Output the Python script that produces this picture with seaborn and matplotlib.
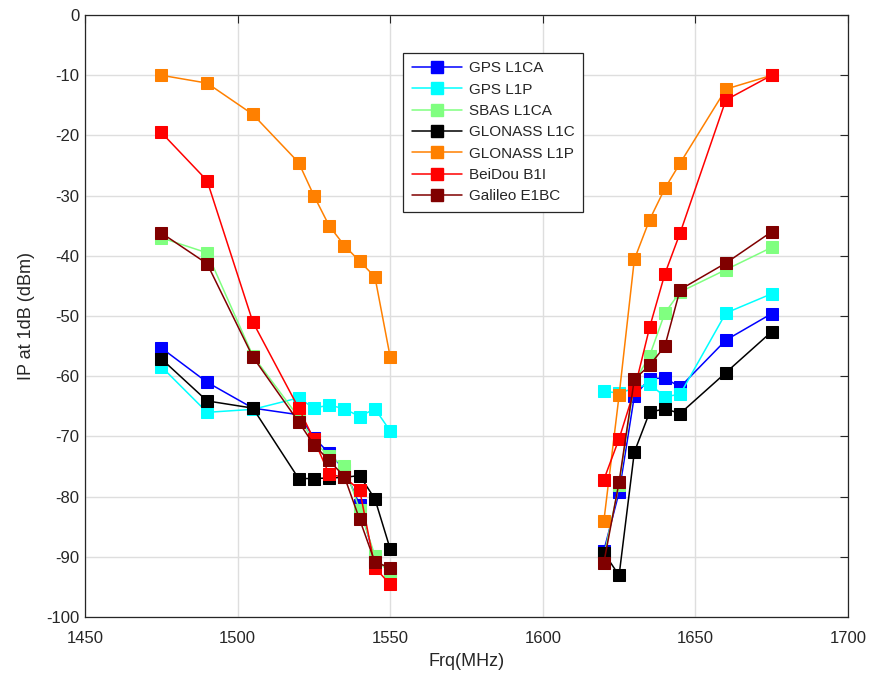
import numpy as np
import pandas as pd
import matplotlib
matplotlib.use("Agg")
import matplotlib.pyplot as plt
import seaborn as sns
from matplotlib.lines import Line2D

freq_low = [1475, 1490, 1505, 1520, 1525, 1530, 1535, 1540, 1545, 1550]
freq_high = [1620, 1625, 1630, 1635, 1640, 1645, 1660, 1675]

systems = ["GPS L1CA", "GPS L1P", "SBAS L1CA", "GLONASS L1C",
           "GLONASS L1P", "BeiDou B1I", "Galileo E1BC"]

gps_l1ca_low = [-55.3, -61.0, -65.3, -66.4, -70.2, -72.8, -75.5, -81.4, -90.5, -92.3]
gps_l1ca_high = [-89.0, -79.3, -63.3, -60.4, -60.3, -61.8, -54.0, -49.6]
gps_l1p_low = [-58.4, -66.0, -65.5, -63.6, -65.3, -64.8, -65.4, -66.7, -65.4, -69.1]
gps_l1p_high = [-62.5, -62.8, -62.0, -61.3, -63.4, -63.0, -49.5, -46.3]
sbas_low = [-37.0, -39.5, -56.6, -66.8, -70.8, -73.3, -74.9, -82.2, -89.8, -93.0]
sbas_high = [-90.0, -78.0, -61.0, -56.6, -49.5, -46.0, -42.3, -38.6]
glo_l1c_low = [-57.1, -64.1, -65.3, -77.0, -77.0, -76.9, -76.8, -76.5, -80.4, -88.7]
glo_l1c_high = [-89.3, -93.1, -72.6, -66.0, -65.4, -66.2, -59.4, -52.6]
glo_l1p_low = [-10.0, -11.3, -16.5, -24.5, -30.0, -35.0, -38.3, -40.9, -43.5, -56.8]
glo_l1p_high = [-84.1, -63.2, -40.6, -34.0, -28.8, -24.6, -12.3, -10.0]
beidou_low = [-19.5, -27.5, -51.0, -65.3, -70.5, -76.3, -76.8, -78.9, -91.8, -94.6]
beidou_high = [-77.2, -70.4, -62.3, -51.9, -43.0, -36.2, -14.1, -10.0]
galileo_low = [-36.2, -41.3, -56.8, -67.6, -71.4, -74.0, -76.7, -83.8, -90.9, -91.8]
galileo_high = [-91.0, -77.6, -60.5, -58.2, -55.0, -45.6, -41.2, -36.0]

low_vals = [gps_l1ca_low, gps_l1p_low, sbas_low, glo_l1c_low, glo_l1p_low, beidou_low, galileo_low]
high_vals = [gps_l1ca_high, gps_l1p_high, sbas_high, glo_l1c_high, glo_l1p_high, beidou_high, galileo_high]

colors = ["#0000ff", "#00ffff", "#80ff80", "#000000", "#ff8000", "#ff0000", "#800000"]

rows = []
for s, lo, hi in zip(systems, low_vals, high_vals):
    for f, v in zip(freq_low, lo):
        rows.append((s, "low", f, v))
    for f, v in zip(freq_high, hi):
        rows.append((s, "high", f, v))
df = pd.DataFrame(rows, columns=["system", "band", "freq", "ip"])

sns.set_style("white")
plt.rcParams["font.family"] = ["Liberation Sans", "DejaVu Sans"]
plt.rcParams["axes.unicode_minus"] = False

fig = plt.figure(figsize=(8.81, 6.74), dpi=100)
ax = fig.add_axes([0.0965, 0.0846, 0.866, 0.893])

sns.lineplot(data=df, x="freq", y="ip", hue="system", hue_order=systems,
             units="band", estimator=None, palette=colors, marker="s",
             markersize=8, linewidth=1.1, sort=True,
             ax=ax, legend=False, zorder=3)
for line, c in zip(ax.lines, [c for c in colors for _ in range(2)]):
    line.set_markeredgecolor(c)
    line.set_markerfacecolor(c)

ax.set_xlim(1450, 1700)
ax.set_ylim(-100, 0)
ax.set_xticks(np.arange(1450, 1701, 50))
ax.set_yticks(np.arange(-100, 1, 10))
ax.grid(True, color="#dedede", linewidth=1.0)
ax.set_axisbelow(True)
for sp in ax.spines.values():
    sp.set_visible(True)
    sp.set_color("#262626")
    sp.set_linewidth(0.9)
ax.tick_params(direction="in", length=5.5, width=0.8, colors="#262626",
               labelsize=12, top=True, right=True)
ax.tick_params(axis="x", pad=10)
ax.tick_params(axis="y", pad=4)
ax.set_xlabel("Frq(MHz)", fontsize=13, color="#262626", labelpad=5)
ax.set_ylabel("IP at 1dB (dBm)", fontsize=13, color="#262626", labelpad=8)

handles = [Line2D([0], [0], color=c, marker="s", markersize=8, linewidth=1.1,
                  markerfacecolor=c, markeredgecolor=c) for c in colors]
leg = ax.legend(handles, systems, loc="upper left", bbox_to_anchor=(0.417, 0.937),
                fontsize=11, frameon=True, fancybox=False, framealpha=1,
                edgecolor="#262626", handlelength=3.3, labelspacing=0.48,
                borderpad=0.55, handletextpad=0.45, borderaxespad=0)
leg.get_frame().set_linewidth(0.9)

fig.savefig("out.png", dpi=100)
